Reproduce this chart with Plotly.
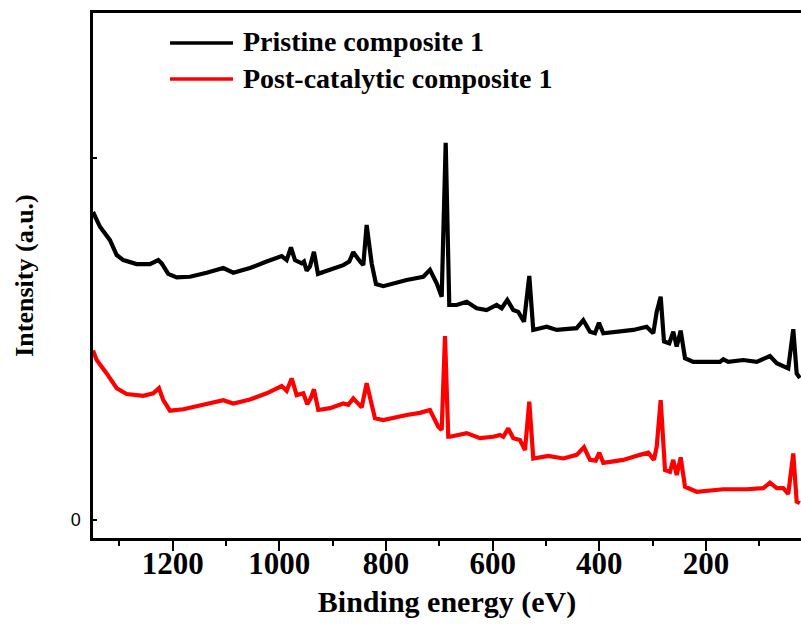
import plotly.graph_objects as go

# ---- data (binding energy in eV, intensity in arbitrary units) ----
energy_pristine = [1349.4, 1336.3, 1317.6, 1305.0, 1292.6, 1267.5, 1242.6, 1227.0, 1220.6, 1208.3,
                   1192.5, 1167.6, 1136.3, 1105.1, 1086.4, 1055.1, 1023.8, 995.6, 986.3, 978.2,
                   970.7, 958.1, 953.8, 948.8, 942.6, 935.1, 927.6, 905.1, 880.1, 868.9,
                   861.4, 848.8, 842.6, 836.3, 826.9, 818.8, 805.1, 761.3, 730.1, 717.6,
                   705.0, 695.6, 688.1, 681.4, 667.5, 648.8, 630.0, 611.3, 592.5, 583.1,
                   572.6, 561.4, 552.0, 541.3, 531.4, 523.9, 498.8, 480.0, 442.5, 430.1,
                   417.6, 408.2, 400.7, 392.6, 361.3, 336.4, 311.3, 298.9, 292.5, 285.0,
                   278.8, 268.9, 261.4, 255.0, 247.5, 239.4, 223.9, 173.8, 167.6, 158.3,
                   130.1, 105.0, 80.1, 67.5, 45.8, 36.4, 30.0, 23.9]
intensity_pristine = [85.1, 81.0, 77.3, 73.2, 71.8, 70.7, 70.7, 71.8, 70.9, 68.0,
                      67.0, 67.2, 68.3, 69.6, 68.3, 69.6, 71.4, 72.9, 71.8, 75.3,
                      71.8, 70.9, 71.4, 68.9, 70.0, 74.1, 68.0, 69.1, 70.4, 71.4,
                      74.0, 71.4, 70.4, 81.5, 70.9, 65.2, 64.6, 66.3, 67.2, 69.1,
                      65.4, 61.7, 104.2, 59.4, 59.4, 60.3, 58.5, 58.0, 59.4, 58.5,
                      60.8, 58.0, 57.5, 54.8, 67.4, 52.5, 53.4, 52.5, 53.0, 55.2,
                      52.0, 51.6, 54.5, 51.6, 52.0, 52.5, 53.4, 51.6, 57.5, 61.7,
                      49.3, 48.8, 52.0, 47.9, 52.3, 44.7, 43.7, 43.7, 44.4, 43.7,
                      44.2, 43.7, 45.3, 43.3, 41.9, 52.7, 40.5, 39.2]

energy_post = [1349.4, 1342.5, 1323.8, 1305.0, 1286.3, 1255.1, 1236.4, 1225.7, 1217.6, 1205.1,
               1180.1, 1142.6, 1105.1, 1086.4, 1055.1, 1023.8, 995.6, 986.3, 976.9, 967.5,
               955.1, 947.6, 941.3, 935.1, 927.0, 905.1, 880.1, 870.8, 861.4, 845.6,
               836.3, 820.7, 805.1, 761.3, 736.3, 717.6, 702.0, 695.6, 689.4, 683.3,
               680.1, 648.8, 623.8, 598.9, 586.3, 580.1, 570.8, 561.4, 548.8, 539.4,
               531.4, 523.9, 495.8, 467.6, 442.5, 428.8, 417.6, 406.9, 400.1, 392.6,
               355.1, 323.8, 308.3, 297.6, 292.5, 285.0, 276.9, 267.6, 261.4, 255.0,
               247.5, 239.4, 217.5, 167.6, 123.8, 92.6, 80.1, 67.5, 55.1, 45.8,
               36.4, 30.0, 23.9]
intensity_post = [46.8, 44.2, 40.5, 36.4, 34.8, 34.3, 35.0, 36.4, 33.1, 30.2,
                  30.6, 31.8, 33.1, 32.2, 33.3, 35.0, 37.0, 35.7, 39.1, 34.5,
                  35.0, 32.0, 33.6, 36.1, 30.4, 30.9, 32.2, 31.8, 33.6, 31.1,
                  37.8, 28.1, 27.6, 29.0, 29.6, 30.4, 25.8, 24.9, 50.8, 23.0,
                  23.0, 24.0, 22.6, 23.0, 23.5, 23.0, 25.3, 22.6, 22.1, 19.3,
                  32.7, 17.0, 17.7, 17.0, 18.0, 20.1, 16.6, 16.4, 18.6, 15.8,
                  16.6, 18.0, 18.6, 16.6, 20.2, 33.1, 13.8, 13.3, 16.6, 12.4,
                  17.3, 9.2, 7.8, 8.5, 8.5, 8.8, 10.3, 8.8, 8.8, 7.2,
                  18.4, 5.1, 4.7]

series_names = ["Pristine composite 1", "Post-catalytic composite 1"]
series_colors = ["#000000", "#ff0000"]

x_tick_vals = [1200, 1000, 800, 600, 400, 200]
y_tick_vals = [0, 100]
y_tick_text = ["0", ""]

SERIF = "Liberation Serif"
SANS = "Liberation Sans"

fig = go.Figure()
fig.add_trace(go.Scatter(x=energy_pristine, y=intensity_pristine, mode="lines",
                         name=series_names[0], line=dict(color=series_colors[0], width=4.2),
                         showlegend=False))
fig.add_trace(go.Scatter(x=energy_post, y=intensity_post, mode="lines",
                         name=series_names[1], line=dict(color=series_colors[1], width=4.2),
                         showlegend=False))

# manual legend (line sample + label), in paper coordinates
W, H = 708, 525
L, T = 93, 13
def px2paper_x(px):
    return (px - L) / W
def py2paper_y(py):
    return (T + H - py) / H

legend_rows = [43.0, 79.0]
for name, color, ypx in zip(series_names, series_colors, legend_rows):
    fig.add_shape(type="line", xref="paper", yref="paper",
                  x0=px2paper_x(170), x1=px2paper_x(233),
                  y0=py2paper_y(ypx), y1=py2paper_y(ypx),
                  line=dict(color=color, width=3.5))
    fig.add_annotation(xref="paper", yref="paper", x=px2paper_x(241), y=py2paper_y(ypx - 1),
                       xanchor="left", yanchor="middle", showarrow=False,
                       text="<b>" + name + "</b>",
                       font=dict(family=SERIF, size=28, color="black"))

fig.update_layout(
    width=801, height=626,
    margin=dict(l=L, r=0, t=T, b=626 - T - H, autoexpand=False),
    paper_bgcolor="white", plot_bgcolor="white",
    showlegend=False,
)
fig.update_xaxes(
    range=[1349.4, 21.9], tickvals=x_tick_vals,
    ticks="outside", ticklen=10, tickwidth=2, tickcolor="black",
    minor=dict(dtick=100, tick0=0, ticks="outside", ticklen=5, tickwidth=2, tickcolor="black"),
    showline=True, linewidth=2.5, linecolor="black", mirror=True,
    showgrid=False, zeroline=False,
    tickfont=dict(family=SERIF, size=31, color="black", weight="bold"),
    ticklabelstandoff=-14,
    title=dict(text="<b>Binding energy (eV)</b>", standoff=12,
               font=dict(family=SERIF, size=30, color="black")),
    automargin=False,
)
fig.update_yaxes(
    range=[-4.97, 140.06], tickvals=y_tick_vals, ticktext=y_tick_text,
    ticks="inside", ticklen=4, tickwidth=2, tickcolor="black",
    showline=True, linewidth=2.5, linecolor="black", mirror=False,
    showgrid=False, zeroline=False,
    tickfont=dict(family=SANS, size=18, color="black"),
    ticklabelstandoff=6,
    title=dict(text="<b>Intensity (a.u.)</b>", standoff=30,
               font=dict(family=SERIF, size=26, color="black")),
    automargin=False,
)

fig.write_html("out.html")
